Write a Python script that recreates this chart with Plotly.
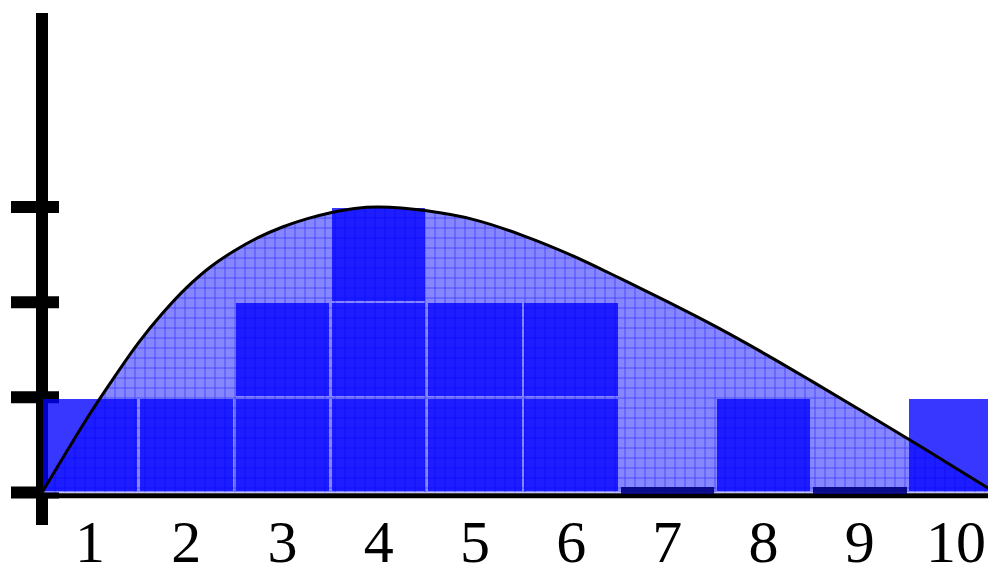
import plotly.graph_objects as go

# histogram counts per category (x = 1..10)
categories = [1, 2, 3, 4, 5, 6, 7, 8, 9, 10]
counts = [1, 1, 2, 3, 2, 2, 0, 1, 0, 1]
tick_labels = [str(c) for c in categories]

# density-like curve
curve_x = [0.5, 0.75, 1.0, 1.25, 1.5, 1.75, 2.0, 2.25, 2.5, 2.75, 3.0, 3.25,
           3.5, 3.75, 4.0, 4.5, 5.0, 5.5, 6.0, 6.5, 7.0, 7.5, 8.0, 8.5,
           9.0, 9.5, 10.0, 10.41]
curve_y = [0.0, 0.42, 0.83, 1.21, 1.57, 1.88, 2.15, 2.37, 2.54, 2.68, 2.79, 2.875,
           2.94, 2.985, 3.0, 2.96, 2.865, 2.70, 2.495, 2.255, 2.005, 1.745, 1.465, 1.17,
           0.87, 0.565, 0.255, 0.0]

y_ticks = [0, 1, 2, 3]
zero_mark = 0.075  # height of the marker drawn for empty bins

XMIN, XMAX = 0.479, 10.333
PL, PT, PR, PB = 40, 13, 988, 501   # plot area in pixels
Y0_PX, Y_UNIT = 492.5, 95.17        # pixel of y=0 and pixels per unit
YMIN = -(PB - Y0_PX) / Y_UNIT
YMAX = (Y0_PX - PT) / Y_UNIT


def px_x(p):
    return (p - PL) / (PR - PL)


def frac_y(v):
    return (v - YMIN) / (YMAX - YMIN)


fig = go.Figure()

# hatched area under the curve (drawn on the lower axis so bars sit above it)
fig.add_trace(go.Scatter(
    x=curve_x, y=curve_y, mode="lines", line=dict(width=0, shape="spline"),
    fill="tozeroy",
    fillpattern=dict(shape="+", bgcolor="#8686ff", fgcolor="#2a2aff",
                     size=10, solidity=0.12, fillmode="replace"),
    showlegend=False, hoverinfo="skip", xaxis="x", yaxis="y",
))

# stacked unit squares with thin gaps
gap = 0.028
for level in range(1, max(counts) + 1):
    xs = [c for c, n in zip(categories, counts) if n >= level]
    fig.add_trace(go.Bar(
        x=xs, y=[1 - gap] * len(xs), base=[level - 1 + gap / 2] * len(xs),
        width=1 - gap,
        marker=dict(color="#0000ff", line=dict(width=0)),
        opacity=0.78, showlegend=False, xaxis="x", yaxis="y2",
    ))

# empty bins
xs0 = [c for c, n in zip(categories, counts) if n == 0]
fig.add_trace(go.Bar(
    x=xs0, y=[zero_mark] * len(xs0), base=[-0.017] * len(xs0), width=1 - gap,
    marker=dict(color="#000080", line=dict(width=0)), opacity=0.9,
    showlegend=False, xaxis="x", yaxis="y2",
))

# curve outline
fig.add_trace(go.Scatter(
    x=curve_x, y=curve_y, mode="lines",
    line=dict(color="black", width=3, shape="spline"),
    showlegend=False, xaxis="x", yaxis="y2",
))

shapes = [
    # y axis line
    dict(type="line", xref="paper", yref="paper", x0=px_x(42), x1=px_x(42),
         y0=(PB - 525) / (PB - PT), y1=1,
         line=dict(color="black", width=12), layer="below"),
    # x axis line
    dict(type="line", xref="paper", yref="paper", x0=px_x(42), x1=1,
         y0=frac_y(-0.035), y1=frac_y(-0.035),
         line=dict(color="black", width=5), layer="below"),
]
for t in y_ticks:
    shapes.append(dict(type="line", xref="paper", yref="paper",
                       x0=px_x(11), x1=px_x(59), y0=frac_y(t), y1=frac_y(t),
                       line=dict(color="black", width=12), layer="below"))

W, H = 988, 566
fig.update_layout(
    width=W, height=H,
    margin=dict(l=PL, r=W - PR, t=PT, b=H - PB),
    plot_bgcolor="white", paper_bgcolor="white",
    barmode="overlay", bargap=0,
    shapes=shapes,
    xaxis=dict(range=[XMIN, XMAX], tickvals=categories, ticktext=tick_labels,
               showgrid=False, zeroline=False, showline=False, ticks="",
               tickfont=dict(family="Liberation Serif", size=60, color="black"),
               automargin=False),
    yaxis=dict(range=[YMIN, YMAX], showgrid=False, zeroline=False,
               showline=False, showticklabels=False, ticks=""),
    yaxis2=dict(range=[YMIN, YMAX], overlaying="y", showgrid=False,
                zeroline=False, showline=False, showticklabels=False, ticks=""),
)

# drop the default page margin so the figure fills the window exactly
fig.write_html("out.html", config={"displayModeBar": False},
               post_script="document.body.style.margin = '0';")
